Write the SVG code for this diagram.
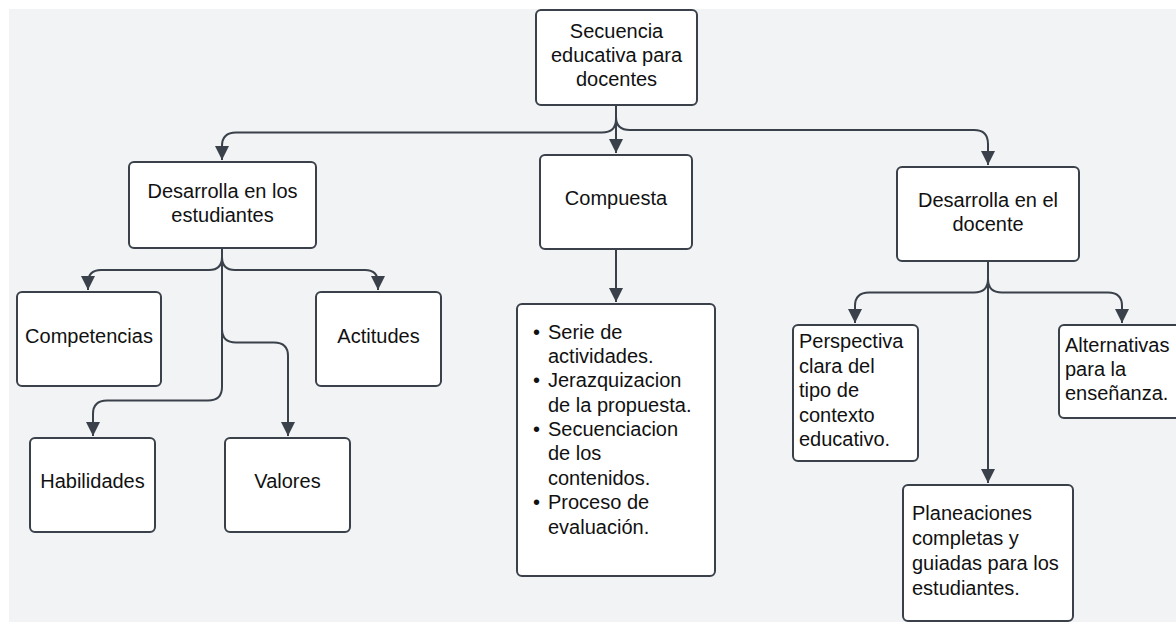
<svg xmlns="http://www.w3.org/2000/svg" width="1176" height="622" viewBox="0 0 1176 622">
<defs>
<style>
.box{fill:#ffffff;stroke:#3a414a;stroke-width:2}
.edge{fill:none;stroke:#3a414a;stroke-width:2}
text{font-family:"Liberation Sans",Arial,sans-serif;font-size:20px;fill:#111111}
.c{text-anchor:middle}
</style>
<marker id="arr" markerUnits="userSpaceOnUse" markerWidth="16" markerHeight="16" refX="14" refY="7.5" orient="auto">
<path d="M0,0.5 L14,7.5 L0,14.5 z" fill="#3a414a"/>
</marker>
</defs>
<rect x="9" y="9" width="1167" height="613" fill="#f1f3f5"/>
<g id="connectors">
<path class="edge" d="M616,105 V153" marker-end="url(#arr)"/>
<path class="edge" d="M616,105 V119 Q616,132.5 602,132.5 H236 Q222,132.5 222,146 V160" marker-end="url(#arr)"/>
<path class="edge" d="M616,105 V117 Q616,130 630,130 H974 Q988,130 988,144 V165" marker-end="url(#arr)"/>
<path class="edge" d="M222,248 V257 Q222,270 209,270 H101 Q88,270 88,283 V290" marker-end="url(#arr)"/>
<path class="edge" d="M222,248 V257 Q222,270 235,270 H365 Q378,270 378,283 V290" marker-end="url(#arr)"/>
<path class="edge" d="M222,248 V329 Q222,342.5 236,342.5 H274 Q288,342.5 288,356 V436" marker-end="url(#arr)"/>
<path class="edge" d="M222,248 V387 Q222,400.5 208,400.5 H107 Q93,400.5 93,414 V436" marker-end="url(#arr)"/>
<path class="edge" d="M616,249 V302" marker-end="url(#arr)"/>
<path class="edge" d="M988,261 V279 Q988,292.5 974,292.5 H869 Q855,292.5 855,306 V323" marker-end="url(#arr)"/>
<path class="edge" d="M988,261 V279 Q988,292.5 1002,292.5 H1108 Q1122,292.5 1122,306 V323" marker-end="url(#arr)"/>
<path class="edge" d="M988,261 V483" marker-end="url(#arr)"/>
</g>
<g id="n-secuencia">
<rect class="box" x="536" y="10" width="161" height="95" rx="5"/>
<text class="c" x="616.5" y="38">Secuencia</text>
<text class="c" x="616.5" y="62">educativa para</text>
<text class="c" x="616.5" y="86">docentes</text>
</g>
<g id="n-desarrolla-estudiantes">
<rect class="box" x="129" y="162" width="187" height="86" rx="5"/>
<text class="c" x="222.5" y="198">Desarrolla en los</text>
<text class="c" x="222.5" y="222">estudiantes</text>
</g>
<g id="n-compuesta">
<rect class="box" x="540" y="155" width="152" height="94" rx="5"/>
<text class="c" x="616" y="205">Compuesta</text>
</g>
<g id="n-desarrolla-docente">
<rect class="box" x="897" y="167" width="182" height="94" rx="5"/>
<text class="c" x="988" y="207">Desarrolla en el</text>
<text class="c" x="988" y="231">docente</text>
</g>
<g id="n-competencias">
<rect class="box" x="17" y="292" width="144" height="94" rx="5"/>
<text class="c" x="89" y="343">Competencias</text>
</g>
<g id="n-actitudes">
<rect class="box" x="316" y="292" width="125" height="94" rx="5"/>
<text class="c" x="378.5" y="343">Actitudes</text>
</g>
<g id="n-habilidades">
<rect class="box" x="30" y="438" width="125" height="94" rx="5"/>
<text class="c" x="92.5" y="488">Habilidades</text>
</g>
<g id="n-valores">
<rect class="box" x="225" y="438" width="125" height="94" rx="5"/>
<text class="c" x="287.5" y="488">Valores</text>
</g>
<g id="n-lista">
<rect class="box" x="517" y="304" width="198" height="272" rx="5"/>
<text x="533" y="339">•</text><text x="548" y="339">Serie de</text>
<text x="548" y="363">actividades.</text>
<text x="533" y="387">•</text><text x="548" y="387">Jerazquizacion</text>
<text x="548" y="412">de la propuesta.</text>
<text x="533" y="436">•</text><text x="548" y="436">Secuenciacion</text>
<text x="548" y="460">de los</text>
<text x="548" y="485">contenidos.</text>
<text x="533" y="509">•</text><text x="548" y="509">Proceso de</text>
<text x="548" y="534">evaluación.</text>
</g>
<g id="n-perspectiva">
<rect class="box" x="793" y="325" width="125" height="136" rx="5"/>
<text x="799" y="348">Perspectiva</text>
<text x="799" y="373">clara del</text>
<text x="799" y="397">tipo de</text>
<text x="799" y="422">contexto</text>
<text x="799" y="446">educativo.</text>
</g>
<g id="n-alternativas">
<rect class="box" x="1059" y="325" width="130" height="93" rx="5"/>
<text x="1065" y="352">Alternativas</text>
<text x="1065" y="376">para la</text>
<text x="1065" y="400">enseñanza.</text>
</g>
<g id="n-planeaciones">
<rect class="box" x="903" y="485" width="170" height="136" rx="5"/>
<text x="912" y="520">Planeaciones</text>
<text x="912" y="545">completas y</text>
<text x="912" y="570">guiadas para los</text>
<text x="912" y="595">estudiantes.</text>
</g>
</svg>
